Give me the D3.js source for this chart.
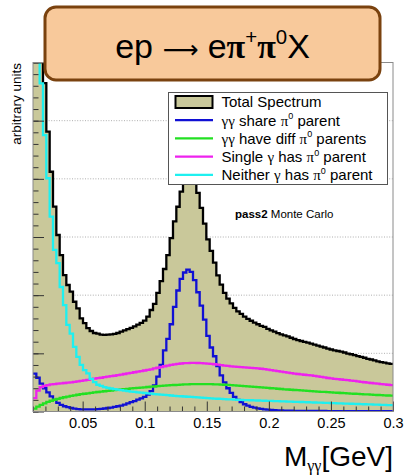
<!DOCTYPE html>
<html><head><meta charset="utf-8">
<script src="https://cdn.jsdelivr.net/npm/d3@7"></script>
<style>
body{margin:0;background:#fff}
svg{display:block}
text{font-family:"Liberation Sans",Arial,sans-serif;fill:#000}
</style>
</head><body>
<svg id="chart" width="404" height="475"></svg>
<script>
// ---------------- data ----------------
const xDomain = [0.01, 0.3];          // GeV, histogram range shown
const yMax = 6000;                    // arbitrary units (6 major divisions)
const xTickValues = [0.05, 0.1, 0.15, 0.2, 0.25, 0.3];
const xTickLabels = ["0.05", "0.1", "0.15", "0.2", "0.25", "0.3"];
const yGridValues = [1000, 2000, 3000, 4000, 5000];

const totalSpectrum = [7800, 7000, 6500, 5645, 4810, 4122, 3521, 3034, 2690, 2346,
 2175, 2060, 1887, 1774, 1602, 1521, 1435, 1384, 1350, 1338,
 1322, 1316, 1320, 1326, 1336, 1350, 1372, 1393, 1415, 1436,
 1463, 1494, 1522, 1562, 1630, 1745, 1850, 2040, 2240, 2450,
 2690, 2980, 3270, 3520, 3780, 3930, 4000, 3980, 3920, 3760,
 3500, 3230, 2960, 2760, 2560, 2340, 2180, 2040, 1940, 1860,
 1780, 1722, 1680, 1630, 1592, 1560, 1528, 1500, 1472, 1456,
 1420, 1396, 1372, 1347, 1326, 1310, 1290, 1268, 1246, 1226,
 1212, 1198, 1185, 1168, 1150, 1132, 1114, 1100, 1082, 1066,
 1050, 1040, 1028, 1014, 996, 984, 970, 952, 940, 924,
 906, 894, 878, 862, 850, 840, 828, 818];

const sharePi0 = [650, 580, 480, 400, 330, 260, 200, 150, 115, 90,
 75, 60, 50, 42, 38, 35, 35, 36, 38, 40,
 45, 52, 60, 68, 78, 90, 102, 118, 140, 160,
 180, 205, 225, 250, 290, 350, 450, 600, 800, 1050,
 1250, 1500, 1800, 2080, 2280, 2390, 2440, 2400, 2260, 2050,
 1820, 1580, 1300, 1100, 950, 780, 620, 500, 400, 320,
 250, 200, 160, 125, 100, 80, 65, 55, 45, 38,
 32, 27, 23, 20, 17, 15, 14, 13, 12, 12,
 11, 11, 10, 10, 10, 9, 9, 9, 8, 8,
 8, 8, 7, 7, 7, 7, 6, 6, 6, 6,
 6, 5, 5, 5, 5, 5, 5, 5];

const diffPi0 = [50, 85, 115, 140, 165, 185, 202, 218, 232, 245,
 257, 268, 278, 288, 297, 305, 313, 320, 328, 335,
 342, 348, 355, 361, 367, 373, 379, 385, 390, 396,
 401, 406, 411, 416, 421, 426, 430, 435, 440, 444,
 448, 452, 456, 459, 462, 465, 467, 469, 471, 472,
 472, 472, 471, 470, 468, 466, 463, 460, 457, 453,
 449, 445, 441, 437, 433, 428, 424, 419, 414, 410,
 405, 400, 396, 391, 387, 382, 378, 374, 370, 366,
 362, 358, 354, 350, 347, 343, 339, 336, 332, 329,
 325, 322, 318, 315, 311, 308, 305, 302, 299, 296,
 293, 290, 287, 284, 281, 278, 275, 272];

const singlePi0 = [230, 360, 420, 440, 455, 465, 472, 480, 485, 490,
 495, 502, 510, 518, 526, 535, 545, 555, 565, 573,
 580, 590, 598, 607, 615, 625, 635, 645, 655, 665,
 675, 685, 695, 705, 715, 725, 740, 752, 765, 778,
 790, 800, 810, 818, 825, 830, 833, 835, 835, 834,
 830, 826, 822, 818, 812, 805, 798, 790, 783, 776,
 770, 766, 762, 758, 754, 750, 745, 740, 735, 728,
 720, 712, 703, 694, 685, 676, 668, 660, 652, 645,
 638, 632, 626, 620, 612, 603, 594, 585, 576, 568,
 562, 556, 550, 544, 538, 532, 526, 518, 510, 503,
 496, 490, 484, 478, 472, 466, 460, 455];

const neitherPi0 = [7600, 6600, 5640, 4750, 4010, 3350, 2780, 2550, 2140, 1830,
 1490, 1340, 1110, 940, 800, 710, 655, 560, 505, 460,
 440, 420, 405, 395, 385, 375, 366, 358, 350, 343,
 336, 330, 324, 318, 312, 306, 300, 295, 290, 285,
 280, 275, 270, 266, 262, 258, 254, 250, 246, 242,
 238, 234, 230, 226, 222, 219, 216, 213, 210, 207,
 204, 201, 199, 197, 195, 193, 191, 189, 187, 185,
 183, 181, 179, 177, 175, 173, 171, 169, 167, 165,
 163, 161, 159, 157, 155, 153, 151, 149, 147, 145,
 143, 141, 139, 137, 135, 133, 131, 129, 127, 125,
 123, 121, 119, 117, 115, 113, 111, 110];

const seriesLabels = ["Total Spectrum", "γγ share π^0 parent", "γγ have diff π^0 parents",
                      "Single γ has π^0 parent", "Neither γ has π^0 parent"];
const titleParts = ["ep ", "⟶", " eπ^+π^0X"];
const xTitle = "M", xTitleSub = "γγ", xTitleUnit = "[GeV]";
const yTitle = "arbitrary units";
const noteBold = "pass2", noteText = "Monte Carlo";

// ---------------- layout / style ----------------
const L = 33, R = 393, T = 62.5, B = 411.5;
const colors = {total: "#000", fill: "#c9c89a", blue: "#1010d4", green: "#22e022",
                magenta: "#ee22ee", cyan: "#1ef0f0"};

const svg = d3.select("#chart");
const x = d3.scaleLinear().domain(xDomain).range([L, R]);
const y = d3.scaleLinear().domain([0, yMax]).range([B, T]);
const nBins = totalSpectrum.length;
const bw = (xDomain[1] - xDomain[0]) / nBins;
const edges = d3.range(nBins + 1).map(i => xDomain[0] + i * bw);

function stepPath(vals) {
  let d = `M${x(edges[0])},${y(vals[0])}`;
  for (let i = 0; i < vals.length; i++) {
    d += `H${x(edges[i + 1])}`;
    if (i < vals.length - 1) d += `V${y(vals[i + 1])}`;
  }
  return d;
}
function areaPath(vals) {
  const s = stepPath(vals);
  return `M${x(edges[0])},${y(0)}V${y(vals[0])}` + s.slice(s.indexOf("H")) + `V${y(0)}Z`;
}

svg.append("defs").append("clipPath").attr("id", "plotclip")
  .append("rect").attr("x", L).attr("y", T).attr("width", R - L).attr("height", B - T);

// grid
svg.append("g").selectAll("line").data(yGridValues).join("line")
  .attr("x1", L).attr("x2", R).attr("y1", d => y(d)).attr("y2", d => y(d))
  .attr("stroke", "#9a9a9a").attr("stroke-width", 0.8).attr("stroke-dasharray", "1,1.6");

const plot = svg.append("g").attr("clip-path", "url(#plotclip)");
plot.append("path").attr("d", areaPath(totalSpectrum)).attr("fill", colors.fill);
const lineSeries = [
  [totalSpectrum, colors.total],
  [sharePi0, colors.blue],
  [diffPi0, colors.green],
  [singlePi0, colors.magenta],
  [neitherPi0, colors.cyan]
];
lineSeries.forEach(([vals, c]) => {
  plot.append("path").attr("d", stepPath(vals)).attr("fill", "none")
    .attr("stroke", c).attr("stroke-width", 2.3).attr("stroke-linejoin", "miter");
});

// axes
const minorX = d3.range(1, 30).map(i => i / 100).filter(v => !xTickValues.some(t => Math.abs(t - v) < 1e-9));
const gxMinor = svg.append("g").attr("transform", `translate(0,${B})`)
  .call(d3.axisBottom(x).tickValues(minorX).tickSize(-5).tickFormat(""));
const gx = svg.append("g").attr("transform", `translate(0,${B})`)
  .call(d3.axisBottom(x).tickValues(xTickValues).tickSize(-10)
    .tickFormat((d, i) => xTickLabels[i]));
const minorY = d3.range(0, yMax + 1, 200);
const gyMinor = svg.append("g").attr("transform", `translate(${L},0)`)
  .call(d3.axisLeft(y).tickValues(minorY).tickSize(-5.5).tickFormat(""));
const gy = svg.append("g").attr("transform", `translate(${L},0)`)
  .call(d3.axisLeft(y).tickValues(d3.range(0, yMax + 1, 1000)).tickSize(-11).tickFormat(""));
[gxMinor, gx, gyMinor, gy].forEach(g => {
  g.select(".domain").remove();
  g.selectAll(".tick line").attr("stroke", "#333").attr("stroke-width", 1);
});
gx.selectAll(".tick text").attr("font-size", 14.5).attr("font-family", "Liberation Sans, Arial, sans-serif")
  .attr("fill", "#000").attr("y", 16).attr("dy", 0);
// frame
svg.append("rect").attr("x", L).attr("y", T).attr("width", R - L).attr("height", B - T)
  .attr("fill", "none").attr("stroke", "#8a8a8a").attr("stroke-width", 1);

// rich text helper: Greek letters in serif, ^x as superscript
function rich(textSel, str, size, opts = {}) {
  const parts = str.split(/(\^[0+]|[γπ]+)/).filter(s => s.length);
  let raised = false;
  parts.forEach(p => {
    const ts = textSel.append("tspan");
    if (p[0] === "^") {
      ts.text(p[1]).attr("font-size", size * 0.6).attr("dy", -size * 0.42);
      raised = true;
    } else {
      ts.text(p);
      if (raised) { ts.attr("dy", size * 0.42); raised = false; }
      if (/[γπ]/.test(p)) {
        ts.attr("font-family", "Liberation Serif, serif");
        if (opts.boldGreek) ts.attr("font-weight", "bold");
      }
    }
  });
}

// axis titles
const xt = svg.append("text").attr("x", R).attr("y", 466).attr("text-anchor", "end").attr("font-size", 28);
xt.append("tspan").text(xTitle);
xt.append("tspan").text(xTitleSub).attr("font-size", 16).attr("dy", 4.5).attr("font-family", "Liberation Serif, serif");
xt.append("tspan").text(xTitleUnit).attr("dy", -4.5);

svg.append("text").attr("transform", `translate(20.5,63) rotate(-90)`)
  .attr("text-anchor", "end").attr("font-size", 13.5).text(yTitle);

// note
const nt = svg.append("text").attr("x", 235).attr("y", 217.5).attr("font-size", 11.5);
nt.append("tspan").text(noteBold).attr("font-weight", "bold");
nt.append("tspan").text(" " + noteText);

// legend
const lg = svg.append("g");
const lgX = 168.5, lgY = 92.5, lgW = 219, lgH = 92;
lg.append("rect").attr("x", lgX).attr("y", lgY).attr("width", lgW).attr("height", lgH)
  .attr("fill", "#fff").attr("stroke", "#555").attr("stroke-width", 1);
const legColors = [null, colors.blue, colors.green, colors.magenta, colors.cyan];
seriesLabels.forEach((lab, i) => {
  const cy = 102 + i * 18.2;
  if (i === 0) {
    lg.append("rect").attr("x", 175.5).attr("y", cy - 6).attr("width", 37).attr("height", 12)
      .attr("fill", colors.fill).attr("stroke", "#000").attr("stroke-width", 2);
  } else {
    lg.append("line").attr("x1", 175).attr("x2", 213).attr("y1", cy).attr("y2", cy)
      .attr("stroke", legColors[i]).attr("stroke-width", 2.2);
  }
  const t = lg.append("text").attr("x", 221.5).attr("y", cy + 5.3).attr("font-size", 15);
  rich(t, lab, 15);
});

// title box
svg.append("rect").attr("x", 45).attr("y", 7).attr("width", 335).attr("height", 73)
  .attr("rx", 11).attr("ry", 11).attr("fill", "#f8c99b").attr("stroke", "#7a420f").attr("stroke-width", 3);
const tt = svg.append("text").attr("x", 212.5).attr("y", 58).attr("text-anchor", "middle").attr("font-size", 34);
rich(tt, titleParts[0], 34, {boldGreek: true});
tt.append("tspan").text(titleParts[1]).attr("font-family", "DejaVu Sans, sans-serif").attr("font-size", 25);
rich(tt, titleParts[2], 34, {boldGreek: true});
</script>
</body></html>
